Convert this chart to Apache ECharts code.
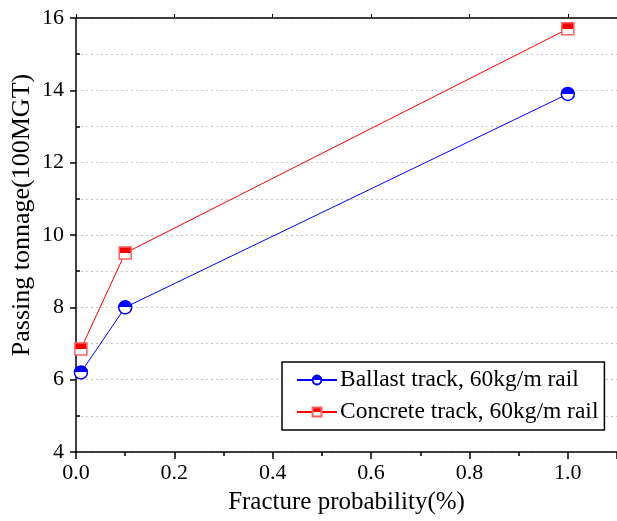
<!DOCTYPE html>
<html>
<head>
<meta charset="utf-8">
<script src="https://cdn.jsdelivr.net/npm/echarts@6/dist/echarts.min.js"></script>
<style>
  html, body { margin: 0; padding: 0; background: #fff; }
  #chart { width: 617px; height: 521px; }
</style>
</head>
<body>
<div id="chart"></div>
<script>
// fracture probability (%) on x, passing tonnage (100MGT) on y
var probability = [0.01, 0.1, 1.0]
var ballastTrack = [6.2, 8.0, 13.9]
var concreteTrack = [6.85, 9.5, 15.7]
var seriesNames = ['Ballast track, 60kg/m rail', 'Concrete track, 60kg/m rail']

var font = 'Liberation Serif'

function pairs(xs, ys) {
  return xs.map(function (x, i) { return [x, ys[i]] })
}

function halfFill(color) {
  return new echarts.graphic.LinearGradient(0, 0, 0, 1, [
    { offset: 0, color: color },
    { offset: 0.5, color: color },
    { offset: 0.5, color: '#fff' },
    { offset: 1, color: '#fff' }
  ])
}

var chart = echarts.init(document.getElementById('chart'))

var option = {
  backgroundColor: '#fff',
  animation: false,
  grid: { left: 76, right: 0, top: 18, bottom: 69 },
  legend: {
    orient: 'vertical',
    left: 282,
    top: 362,
    padding: [6, 6, 6, 14],
    itemGap: 8,
    itemWidth: 40,
    itemHeight: 11,
    borderColor: '#000',
    borderWidth: 1.5,
    backgroundColor: '#fff',
    textStyle: { fontFamily: font, fontSize: 23.5, color: '#000', padding: [0, 0, 0, -2] },
    data: seriesNames
  },
  xAxis: [
    {
      type: 'value',
      min: 0,
      max: 1.1,
      interval: 0.2,
      axisLine: { lineStyle: { color: '#000', width: 1.5 } },
      axisTick: { length: 7, lineStyle: { color: '#000', width: 1.5 } },
      minorTick: { show: true, splitNumber: 2, length: 4, lineStyle: { color: '#000', width: 1.5 } },
      splitLine: { show: false },
      axisLabel: {
        fontFamily: font,
        fontSize: 22,
        color: '#000',
        margin: 10,
        showMaxLabel: false,
        formatter: function (v) { return Math.abs(v - 1.1) < 1e-6 ? '' : v.toFixed(1) }
      },
      name: 'Fracture probability(%)',
      nameLocation: 'middle',
      nameGap: 38,
      nameTextStyle: { fontFamily: font, fontSize: 25, color: '#000' }
    },
    {
      type: 'value',
      position: 'top',
      min: 0,
      max: 1.1,
      interval: 0.2,
      axisLine: { show: true, onZero: false, lineStyle: { color: '#000', width: 1.5 } },
      axisTick: { show: true, length: 4, lineStyle: { color: '#000', width: 1 } },
      axisLabel: { show: false },
      splitLine: { show: false }
    }
  ],
  yAxis: [
    {
      type: 'value',
      min: 4,
      max: 16,
      interval: 2,
      axisLine: { show: true, lineStyle: { color: '#000', width: 1.5 } },
      axisTick: { show: true, length: 6, lineStyle: { color: '#000', width: 1.5 } },
      splitLine: { show: true, lineStyle: { color: '#c8c8c8', type: [2, 3], width: 1 } },
      minorTick: { show: false, splitNumber: 2 },
      minorSplitLine: { show: true, lineStyle: { color: '#c8c8c8', type: [2, 3], width: 1 } },
      axisLabel: { fontFamily: font, fontSize: 22, color: '#000', margin: 12 }
    },
    {
      // inward minor ticks on the left axis
      type: 'value',
      position: 'left',
      min: 4,
      max: 16,
      interval: 2,
      axisLine: { show: false },
      axisTick: { show: false, inside: true },
      minorTick: { show: true, splitNumber: 2, length: 4, lineStyle: { color: '#000', width: 1.5 } },
      axisLabel: { show: false },
      splitLine: { show: false }
    }
  ],
  graphic: [
    {
      type: 'text',
      x: 22,
      y: 215,
      rotation: Math.PI / 2,
      style: {
        text: 'Passing tonnage(100MGT)',
        fontFamily: font,
        fontSize: 26,
        fill: '#000',
        align: 'center',
        verticalAlign: 'middle'
      }
    }
  ],
  series: [
    {
      name: seriesNames[0],
      type: 'line',
      data: pairs(probability, ballastTrack),
      symbol: 'circle',
      symbolSize: 13,
      lineStyle: { color: '#0000ff', width: 1 },
      itemStyle: { color: halfFill('#0000ff'), borderColor: '#0000ff', borderWidth: 1.5 },
      z: 3
    },
    {
      name: seriesNames[1],
      type: 'line',
      data: pairs(probability, concreteTrack),
      symbol: 'rect',
      symbolSize: 12,
      lineStyle: { color: '#ff0000', width: 1 },
      itemStyle: { color: halfFill('#ff0000'), borderColor: '#ff6060', borderWidth: 1.5 },
      z: 3
    }
  ]
}

chart.setOption(option)
</script>
</body>
</html>
